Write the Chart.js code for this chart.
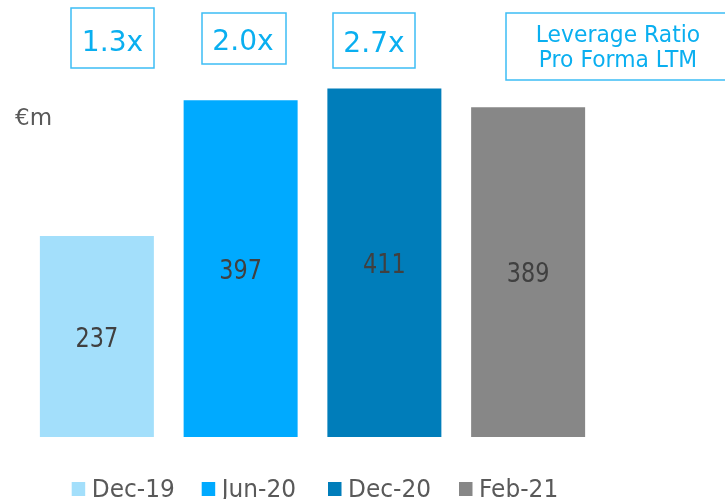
<!DOCTYPE html>
<html>
<head>
<meta charset="utf-8">
<script src="https://cdn.jsdelivr.net/npm/chart.js@4/dist/chart.umd.min.js"></script>
<style>
  html, body { margin: 0; padding: 0; background: #ffffff; }
  #wrap { width: 725px; height: 499px; position: relative; }
</style>
</head>
<body>
<div id="wrap"><canvas id="c" width="725" height="499"></canvas></div>
<script>
// ---- Data ----
const categories = ['Dec-19', 'Jun-20', 'Dec-20', 'Feb-21'];
const values = [237, 397, 411, 389];
const leverageRatios = ['1.3x', '2.0x', '2.7x'];
const leverageTitle = ['Leverage Ratio', 'Pro Forma LTM'];
const unitLabel = '€m';

// ---- Styles ----
const barColors = ['#A3DFFB', '#00AAFF', '#007DBA', '#878787'];
const FONT = '"DejaVu Sans", Verdana, sans-serif';
const accent = '#0AAFF0';
const boxStroke = '#3DBDF5';

function drawText(ctx, text, x, y, size, sx, align, color) {
  ctx.save();
  ctx.font = size + 'px ' + FONT;
  ctx.fillStyle = color;
  ctx.textAlign = align;
  ctx.textBaseline = 'alphabetic';
  ctx.translate(x, y);
  ctx.scale(sx, 1);
  ctx.fillText(text, 0, 0);
  ctx.restore();
}

const overlayPlugin = {
  id: 'overlay',
  afterDatasetsDraw(chart) {
    const ctx = chart.ctx;
    const meta = chart.getDatasetMeta(0);
    ctx.save();
    // value labels centred in bars
    meta.data.forEach((bar, i) => {
      const cy = (bar.y + bar.base) / 2;
      drawText(ctx, String(values[i]), bar.x, cy + 10, 26, 0.86, 'center', '#404040');
    });

    // unit label
    drawText(ctx, unitLabel, 15, 125, 23, 1.0, 'left', '#595959');

    // leverage boxes
    const boxes = [
      {x: 71, y: 8, w: 83, h: 60, tx: 112.5, ty: 50.7},
      {x: 202, y: 13, w: 84, h: 51, tx: 243, ty: 50},
      {x: 333, y: 13, w: 82, h: 55, tx: 374, ty: 51.5}
    ];
    leverageRatios.forEach((t, i) => {
      const b = boxes[i];
      ctx.lineWidth = 1.5;
      ctx.strokeStyle = boxStroke;
      ctx.strokeRect(b.x, b.y, b.w, b.h);
      drawText(ctx, t, b.tx, b.ty, 29, 0.97, 'center', accent);
    });
    // title box
    ctx.lineWidth = 1.5;
    ctx.strokeStyle = boxStroke;
    ctx.strokeRect(506, 13, 222, 67);
    drawText(ctx, leverageTitle[0], 618, 41.7, 23, 0.95, 'center', accent);
    drawText(ctx, leverageTitle[1], 618, 66.7, 23, 0.95, 'center', accent);

    // legend
    const legendX = [71.7, 201.7, 328, 459];
    categories.forEach((c, i) => {
      ctx.fillStyle = barColors[i];
      ctx.fillRect(legendX[i], 482, 13.5, 14);
      drawText(ctx, c, legendX[i] + 20, 497, 24, 0.97, 'left', '#595959');
    });
    ctx.restore();
  }
};

new Chart(document.getElementById('c'), {
  type: 'bar',
  data: {
    labels: categories,
    datasets: [{
      data: values,
      backgroundColor: barColors,
      borderWidth: 0,
      categoryPercentage: 1.0,
      barPercentage: 0.793
    }]
  },
  options: {
    responsive: false,
    animation: false,
    layout: { padding: { left: 25, right: 125, top: 13, bottom: 62 } },
    plugins: { legend: { display: false }, tooltip: { enabled: false } },
    scales: {
      x: { display: false },
      y: { display: false, min: 0, max: 500 }
    }
  },
  plugins: [overlayPlugin]
});
</script>
</body>
</html>
